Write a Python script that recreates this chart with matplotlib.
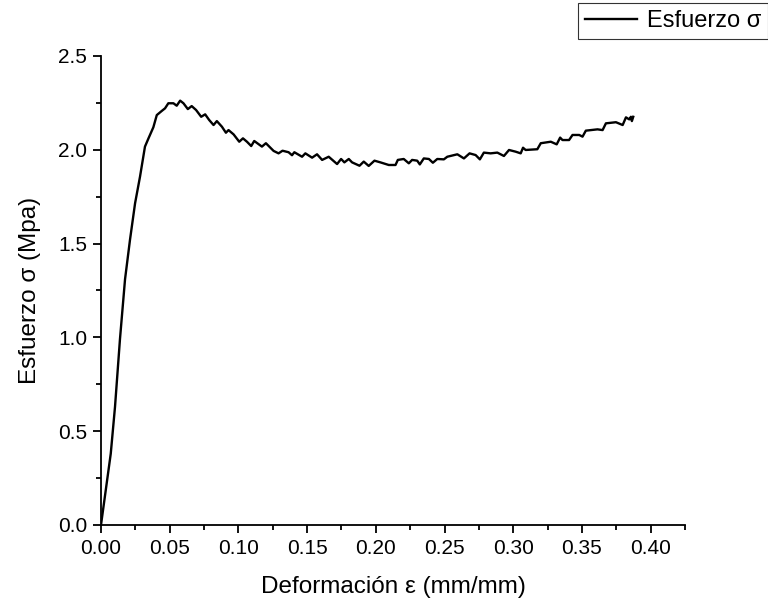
import numpy as np
import matplotlib
matplotlib.use("Agg")
import matplotlib.pyplot as plt
from matplotlib.ticker import MultipleLocator

plt.rcParams['font.family'] = ['Liberation Sans', 'DejaVu Sans']

# Deformacion (mm/mm) y esfuerzo (MPa)
deformacion = [0.0, 0.0071, 0.0102, 0.0138, 0.0175, 0.0211, 0.0248, 0.0284, 0.032, 0.0345,
               0.0381, 0.0406, 0.0442, 0.0466, 0.049, 0.0527, 0.0551, 0.0576, 0.06, 0.0632,
               0.066, 0.0692, 0.0729, 0.0758, 0.0787, 0.0819, 0.0843, 0.088, 0.0909, 0.0928,
               0.0965, 0.1006, 0.1033, 0.1062, 0.1093, 0.1115, 0.1171, 0.12, 0.1256, 0.1292,
               0.1321, 0.1365, 0.139, 0.1407, 0.1463, 0.1487, 0.1536, 0.1572, 0.1609, 0.1657,
               0.1718, 0.1747, 0.1771, 0.1803, 0.1827, 0.1881, 0.1912, 0.1948, 0.199, 0.2033,
               0.2094, 0.2143, 0.216, 0.2203, 0.224, 0.2264, 0.2301, 0.232, 0.2349, 0.2386,
               0.2415, 0.2447, 0.2495, 0.252, 0.2593, 0.2641, 0.2682, 0.2726, 0.2757, 0.2786,
               0.2835, 0.2884, 0.2932, 0.2969, 0.3017, 0.3054, 0.3071, 0.309, 0.3175, 0.32,
               0.3273, 0.3316, 0.3341, 0.3358, 0.3406, 0.3431, 0.348, 0.3504, 0.3528, 0.3613,
               0.365, 0.3674, 0.3747, 0.3796, 0.382, 0.3844, 0.3856, 0.3863, 0.3873]
esfuerzo = [0.0, 0.38, 0.63, 0.99, 1.31, 1.52, 1.715, 1.857, 2.017, 2.06,
            2.12, 2.185, 2.207, 2.221, 2.248, 2.248, 2.235, 2.262, 2.248, 2.217,
            2.233, 2.212, 2.176, 2.189, 2.159, 2.132, 2.153, 2.123, 2.091, 2.105,
            2.082, 2.043, 2.061, 2.043, 2.02, 2.047, 2.017, 2.035, 1.994, 1.981,
            1.995, 1.987, 1.971, 1.987, 1.963, 1.981, 1.958, 1.976, 1.946, 1.963,
            1.924, 1.951, 1.933, 1.951, 1.933, 1.915, 1.937, 1.914, 1.942, 1.933,
            1.919, 1.919, 1.946, 1.951, 1.928, 1.946, 1.942, 1.922, 1.954, 1.951,
            1.931, 1.951, 1.949, 1.963, 1.976, 1.954, 1.981, 1.972, 1.949, 1.985,
            1.981, 1.985, 1.967, 1.999, 1.99, 1.981, 2.011, 1.999, 2.003, 2.035,
            2.043, 2.029, 2.065, 2.052, 2.052, 2.079, 2.079, 2.07, 2.102, 2.109,
            2.105, 2.141, 2.147, 2.132, 2.173, 2.162, 2.176, 2.153, 2.176]

fig = plt.figure(figsize=(7.68, 6.06), dpi=100)
ax = fig.add_axes([0.1315, 0.1337, 0.7605, 0.7739])

ax.plot(deformacion, esfuerzo, color='black', linewidth=1.7, label='Esfuerzo σ')

ax.set_xlim(0, 0.425)
ax.set_ylim(0, 2.5)
ax.xaxis.set_major_locator(MultipleLocator(0.05))
ax.xaxis.set_minor_locator(MultipleLocator(0.025))
ax.yaxis.set_major_locator(MultipleLocator(0.5))
ax.yaxis.set_minor_locator(MultipleLocator(0.25))
ax.xaxis.set_major_formatter(plt.FormatStrFormatter('%.2f'))
ax.yaxis.set_major_formatter(plt.FormatStrFormatter('%.1f'))

for s in ['top', 'right']:
    ax.spines[s].set_visible(False)
for s in ['left', 'bottom']:
    ax.spines[s].set_linewidth(1.3)

ax.tick_params(which='major', direction='out', length=6, width=1.3, labelsize=15, pad=4)
ax.tick_params(which='minor', direction='out', length=3.5, width=1.3)

ax.set_xlabel('Deformación ε (mm/mm)', fontsize=17.5, labelpad=13)
ax.set_ylabel('Esfuerzo σ (Mpa)', fontsize=17.5, labelpad=12)

leg = fig.legend(loc='upper right', bbox_to_anchor=(1.0, 0.995), fontsize=17,
                 frameon=True, fancybox=False, edgecolor='black', borderpad=0.3,
                 handlelength=2.2, handletextpad=0.4, borderaxespad=0)
leg.get_frame().set_linewidth(0.8)

fig.savefig('out.png', dpi=100)
